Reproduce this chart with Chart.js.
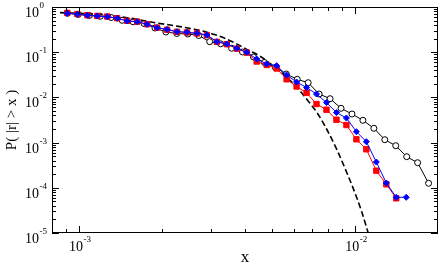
<!DOCTYPE html>
<html>
<head>
<meta charset="UTF-8">
<script src="https://cdn.jsdelivr.net/npm/chart.js"></script>
<style>
  html, body { margin: 0; padding: 0; background: #fff; }
  canvas { display: block; }
</style>
</head>
<body>
<canvas id="c" width="443" height="263"></canvas>
<script>
  // axis ticks (major decades + minor)
  const xMajor = [1e-3, 1e-2];
  const xMinor = [9e-4, 2e-3, 3e-3, 4e-3, 5e-3, 6e-3, 7e-3, 8e-3, 9e-3];
  const yMajor = [1, 1e-1, 1e-2, 1e-3, 1e-4, 1e-5];

  // red squares / blue diamonds share the same bins
  const xBins = [9.09e-4, 9.88e-4, 1.074e-3, 1.167e-3, 1.268e-3, 1.378e-3, 1.497e-3, 1.627e-3,
    1.768e-3, 1.921e-3, 2.088e-3, 2.269e-3, 2.465e-3, 2.679e-3, 2.911e-3, 3.163e-3, 3.437e-3,
    3.735e-3, 4.059e-3, 4.410e-3, 4.792e-3, 5.208e-3, 5.659e-3, 6.149e-3, 6.683e-3, 7.262e-3,
    7.891e-3, 8.575e-3, 9.319e-3, 1.0127e-2, 1.1004e-2, 1.1958e-2, 1.2995e-2, 1.4121e-2, 1.5346e-2];
  const blueY = [0.7257, 0.6896, 0.6553, 0.6323, 0.6101, 0.5623, 0.4900, 0.4729, 0.4143, 0.3483,
    0.3178, 0.2841, 0.2756, 0.2619, 0.2401, 0.1707, 0.1518, 0.1220, 0.0995, 0.0707, 0.0548,
    0.0503, 0.0313, 0.0219, 0.01656, 0.01189, 0.00771, 0.00463, 0.00350, 0.001742, 0.001047,
    0.000372, 0.0001277, 0.0000616, 0.0000616];
  const redY = [0.7400, 0.7000, 0.6600, 0.6350, 0.6150, 0.5650, 0.4950, 0.4750, 0.4150, 0.3500,
    0.3150, 0.2830, 0.2740, 0.2600, 0.2380, 0.1690, 0.1500, 0.1200, 0.0980, 0.0622, 0.0521,
    0.0436, 0.02515, 0.01743, 0.01271, 0.00714, 0.00534, 0.00321, 0.002451, 0.001183, 0.000711,
    0.000239, 0.0001195, 0.0000586];

  // open circles
  const circX = [9.09e-4, 9.96e-4, 1.092e-3, 1.196e-3, 1.310e-3, 1.436e-3, 1.573e-3, 1.723e-3,
    1.888e-3, 2.068e-3, 2.266e-3, 2.483e-3, 2.720e-3, 2.980e-3, 3.265e-3, 3.577e-3, 3.918e-3,
    4.293e-3, 4.703e-3, 5.152e-3, 5.645e-3, 6.184e-3, 6.775e-3, 7.423e-3, 8.132e-3, 8.910e-3,
    9.761e-3, 1.0693e-2, 1.1715e-2, 1.2835e-2, 1.4061e-2, 1.5405e-2, 1.6877e-2, 1.849e-2];
  const circY = [0.7257, 0.6861, 0.6486, 0.6226, 0.5857, 0.5078, 0.4705, 0.4315, 0.3430, 0.2799,
    0.2593, 0.2527, 0.2342, 0.1707, 0.1534, 0.1220, 0.1010, 0.0783, 0.0592, 0.0459, 0.0329,
    0.02515, 0.02114, 0.01189, 0.00936, 0.00574, 0.00429, 0.003114, 0.002072, 0.001159,
    0.000854, 0.000488, 0.000359, 0.0001258];

  // dashed reference curve
  const fitX = [8.55e-4, 1.189e-3, 1.523e-3, 1.797e-3, 2.359e-3, 2.604e-3, 2.876e-3, 3.125e-3,
    3.392e-3, 3.715e-3, 4.101e-3, 4.566e-3, 4.958e-3, 5.384e-3, 5.753e-3, 6.196e-3, 6.729e-3,
    7.306e-3, 7.934e-3, 8.618e-3, 9.361e-3, 9.754e-3, 1.0167e-2, 1.0595e-2, 1.104e-2, 1.1505e-2];
  const fitY = [0.7517, 0.6824, 0.5709, 0.4729, 0.3628, 0.3244, 0.2841, 0.2427, 0.2010, 0.1550,
    0.1119, 0.0795, 0.0548, 0.0370, 0.02554, 0.01614, 0.00876, 0.00452, 0.00190, 0.000686,
    0.0002126, 0.0001153, 0.0000595, 0.00002914, 0.0000129, 0.00000543];

  const pts = (xs, ys) => ys.map((v, i) => ({ x: xs[i], y: v }));

  function minors(lo, hi) {
    const out = [];
    for (let d = lo; d < hi; d++)
      for (let k = 2; k <= 9; k++) out.push(k * Math.pow(10, d));
    return out;
  }
  const yMinor = minors(-5, 0);

  const SERIF = '"Liberation Serif", "DejaVu Serif", serif';

  function sciLabel(ctx, v, x, y, align) {
    const e = Math.round(Math.log10(v));
    const base = '10', sup = e === 0 ? '0' : '-' + Math.abs(e);
    ctx.font = '14px ' + SERIF;
    const wb = ctx.measureText(base).width;
    ctx.font = '9px ' + SERIF;
    const ws = ctx.measureText(sup).width;
    let left = align === 'center' ? x - (wb + ws) / 2 : x;
    ctx.textAlign = 'left';
    ctx.textBaseline = 'alphabetic';
    ctx.font = '14px ' + SERIF;
    ctx.fillText(base, left, y + 10);
    ctx.font = '9px ' + SERIF;
    ctx.fillText(sup, left + wb + 0.5, y + 0.5);
  }

  const frame = {
    id: 'frame',
    afterDraw(chart) {
      const { ctx, chartArea: a, scales: { x, y } } = chart;
      ctx.save();
      ctx.strokeStyle = '#000';
      ctx.fillStyle = '#000';
      ctx.lineWidth = 1;
      ctx.strokeRect(a.left + 0.5, a.top + 0.5, a.right - a.left - 1, a.bottom - a.top - 1);
      ctx.beginPath();
      const xt = (v, len) => {
        const p = Math.round(x.getPixelForValue(v)) + 0.5;
        ctx.moveTo(p, a.bottom); ctx.lineTo(p, a.bottom - len);
        ctx.moveTo(p, a.top); ctx.lineTo(p, a.top + len);
      };
      const yt = (v, len) => {
        const p = Math.round(y.getPixelForValue(v)) + 0.5;
        ctx.moveTo(a.left, p); ctx.lineTo(a.left + len, p);
        ctx.moveTo(a.right, p); ctx.lineTo(a.right - len, p);
      };
      xMajor.forEach(v => xt(v, 7));
      xMinor.forEach(v => xt(v, 4));
      yMajor.forEach(v => yt(v, 7));
      yMinor.forEach(v => yt(v, 4));
      ctx.stroke();

      yMajor.forEach(v => sciLabel(ctx, v, 25, Math.round(y.getPixelForValue(v)), 'left'));
      xMajor.forEach(v => sciLabel(ctx, v, x.getPixelForValue(v) + 1, 241, 'center'));

      ctx.font = '17px ' + SERIF;
      ctx.textAlign = 'center';
      ctx.textBaseline = 'alphabetic';
      ctx.fillText('x', (a.left + a.right) / 2, 262);
      ctx.font = '15px ' + SERIF;
      ctx.translate(16, (a.top + a.bottom) / 2);
      ctx.rotate(-Math.PI / 2);
      ctx.fillText('P( |r| > x )', 0, 0);
      ctx.restore();
    }
  };

  new Chart(document.getElementById('c'), {
    type: 'scatter',
    data: {
      datasets: [
        { data: pts(xBins, blueY), showLine: true, borderColor: '#0000ff', backgroundColor: '#0000ff',
          borderWidth: 1, pointStyle: 'rectRot', pointRadius: 3, order: 1 },
        { data: pts(xBins, redY), showLine: true, borderColor: '#ff0000', backgroundColor: '#ff0000',
          borderWidth: 1, pointStyle: 'rect', pointRadius: 3.8, order: 2 },
        { data: pts(fitX, fitY), showLine: true, borderColor: '#000', borderWidth: 1.6,
          borderDash: [6, 3], pointRadius: 0, cubicInterpolationMode: 'monotone', order: 3 },
        { data: pts(circX, circY), showLine: true, borderColor: '#000', backgroundColor: '#fff',
          borderWidth: 1, pointStyle: 'circle', pointRadius: 3, pointBorderWidth: 1, order: 4 }
      ]
    },
    options: {
      responsive: false,
      animation: false,
      layout: { padding: { left: 52, right: 1, top: 7, bottom: 30 } },
      plugins: { legend: { display: false }, tooltip: { enabled: false } },
      scales: {
        x: { type: 'logarithmic', min: 8e-4, max: 2e-2, display: false },
        y: { type: 'logarithmic', min: 1e-5, max: 1, display: false }
      }
    },
    plugins: [frame]
  });
</script>
</body>
</html>
